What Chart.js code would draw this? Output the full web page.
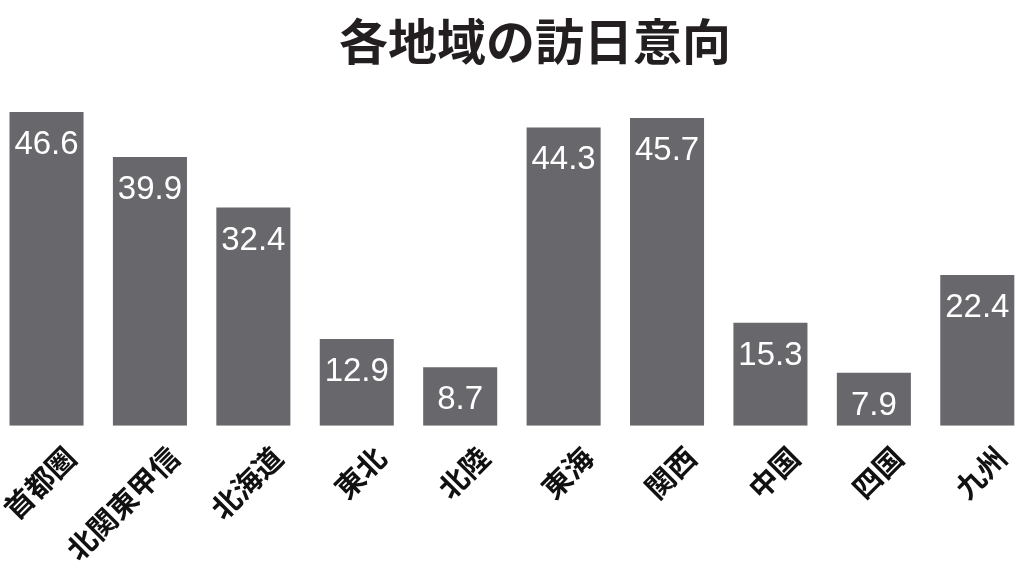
<!DOCTYPE html>
<html lang="ja">
<head>
<meta charset="utf-8">
<title>各地域の訪日意向</title>
<script src="https://cdn.jsdelivr.net/npm/chart.js@4.4.1/dist/chart.umd.min.js"></script>
<style>
    html, body {
        margin: 0;
        padding: 0;
        background: #ffffff;
        overflow: hidden;
    }
    #page {
        position: relative;
        width: 1024px;
        height: 576px;
        overflow: hidden;
    }
    #chart-title {
        position: absolute;
        left: 535px;
        top: 14px;
        transform: translateX(-50%);
        margin: 0;
        font-family: "Noto Sans CJK JP", sans-serif;
        font-weight: 700;
        font-size: 49px;
        line-height: 50px;
        color: #231f20;
        white-space: nowrap;
    }
    #chart-wrap {
        position: absolute;
        left: -21px;
        top: 0;
        width: 1050px;
        height: 576px;
    }
</style>
</head>
<body>
<div id="page">
    <h1 id="chart-title">各地域の訪日意向</h1>
    <div id="chart-wrap">
        <canvas id="chart-intent"></canvas>
    </div>
</div>
<script>
// 地域ごとの訪日意向（%）
const regions = ['首都圏', '北関東甲信', '北海道', '東北', '北陸', '東海', '関西', '中国', '四国', '九州'];
const intentValues = [46.6, 39.9, 32.4, 12.9, 8.7, 44.3, 45.7, 15.3, 7.9, 22.4];

const barColor = 'rgb(104, 103, 108)';

// 棒の上端内側に白で数値を描く
const valueLabelPlugin = {
    id: 'valueLabels',
    afterDatasetsDraw(chart) {
        const ctx = chart.ctx;
        const meta = chart.getDatasetMeta(0);
        ctx.save();
        ctx.fillStyle = '#ffffff';
        ctx.font = '33px "Liberation Sans", Arial, sans-serif';
        ctx.textAlign = 'center';
        ctx.textBaseline = 'middle';
        meta.data.forEach((bar, i) => {
            ctx.fillText(intentValues[i].toFixed(1), bar.x, bar.y + 33);
        });
        ctx.restore();
    }
};

new Chart(document.getElementById('chart-intent').getContext('2d'), {
    type: 'bar',
    data: {
        labels: regions,
        datasets: [
            {
                label: '訪日意向',
                data: intentValues,
                backgroundColor: barColor,
                categoryPercentage: 1.0,
                barPercentage: 0.716
            }
        ]
    },
    options: {
        responsive: true,
        maintainAspectRatio: false,
        animation: false,
        layout: {
            padding: {
                top: 89,
                bottom: 3,
                left: 0,
                right: 0
            }
        },
        scales: {
            x: {
                grid: {
                    display: false
                },
                border: {
                    display: false
                },
                ticks: {
                    autoSkip: false,
                    minRotation: 45,
                    maxRotation: 45,
                    padding: 6,
                    labelOffset: 24,
                    color: '#111111',
                    font: {
                        family: '"Noto Sans CJK JP", sans-serif',
                        size: 29,
                        weight: 'bold'
                    }
                }
            },
            y: {
                display: false,
                min: 0,
                max: 50
            }
        },
        plugins: {
            legend: {
                display: false
            },
            tooltip: {
                enabled: false
            }
        }
    },
    plugins: [valueLabelPlugin]
});
</script>
</body>
</html>
